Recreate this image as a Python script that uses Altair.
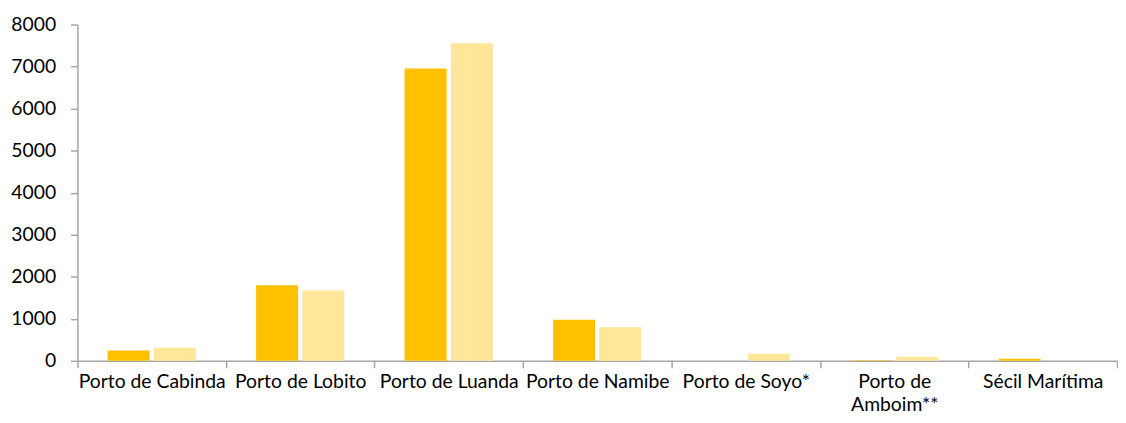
import altair as alt
import pandas as pd

categories = ["Porto de Cabinda", "Porto de Lobito", "Porto de Luanda", "Porto de Namibe",
              "Porto de Soyo*", "Porto de Amboim**", "Sécil Marítima"]
series_names = ["Série 1", "Série 2"]
series_1 = [245, 1800, 6955, 975, 0, 10, 50]
series_2 = [310, 1675, 7555, 800, 165, 95, 0]
colors = ["#FFC000", "#FFE699"]
y_ticks = [0, 1000, 2000, 3000, 4000, 5000, 6000, 7000, 8000]

rows = []
for c, a, b in zip(categories, series_1, series_2):
    rows.append({"cat": c, "serie": series_names[0], "value": a})
    rows.append({"cat": c, "serie": series_names[1], "value": b})
df = pd.DataFrame(rows)

FONT = "Lato"
FS = 19.5

chart = alt.Chart(df).mark_bar().encode(
    x=alt.X("cat:N", sort=categories, title=None,
            scale=alt.Scale(paddingInner=0, paddingOuter=0),
            axis=alt.Axis(labelAngle=0, tickBand="extent", tickSize=7, tickWidth=1.5,
                          tickColor="#A6A6A6", domainColor="#A6A6A6", domainWidth=1.5,
                          labelFont=FONT, labelFontSize=FS, labelColor="#000000",
                          labelPadding=5, labelLineHeight=23, labelLimit=0,
                          labelExpr="datum.label == 'Porto de Amboim**' ? ['Porto de', 'Amboim**'] : datum.label")),
    xOffset=alt.XOffset("serie:N", sort=series_names,
                        scale=alt.Scale(paddingInner=0.092, paddingOuter=0.652)),
    y=alt.Y("value:Q", title=None,
            scale=alt.Scale(domain=[0, 8000], nice=False),
            axis=alt.Axis(values=y_ticks, format="d", grid=False, tickSize=7, tickWidth=1.5,
                          tickColor="#A6A6A6", domainColor="#A6A6A6", domainWidth=1.5,
                          labelFont=FONT, labelFontSize=FS, labelColor="#000000",
                          labelPadding=15)),
    color=alt.Color("serie:N", sort=series_names,
                    scale=alt.Scale(domain=series_names, range=colors), legend=None),
).properties(
    width=1048, height=339,
    padding={"left": 2, "top": 5, "right": 0, "bottom": 0},
).configure_view(stroke=None)

chart.save("out.html", embed_options={"renderer": "svg", "actions": False})
